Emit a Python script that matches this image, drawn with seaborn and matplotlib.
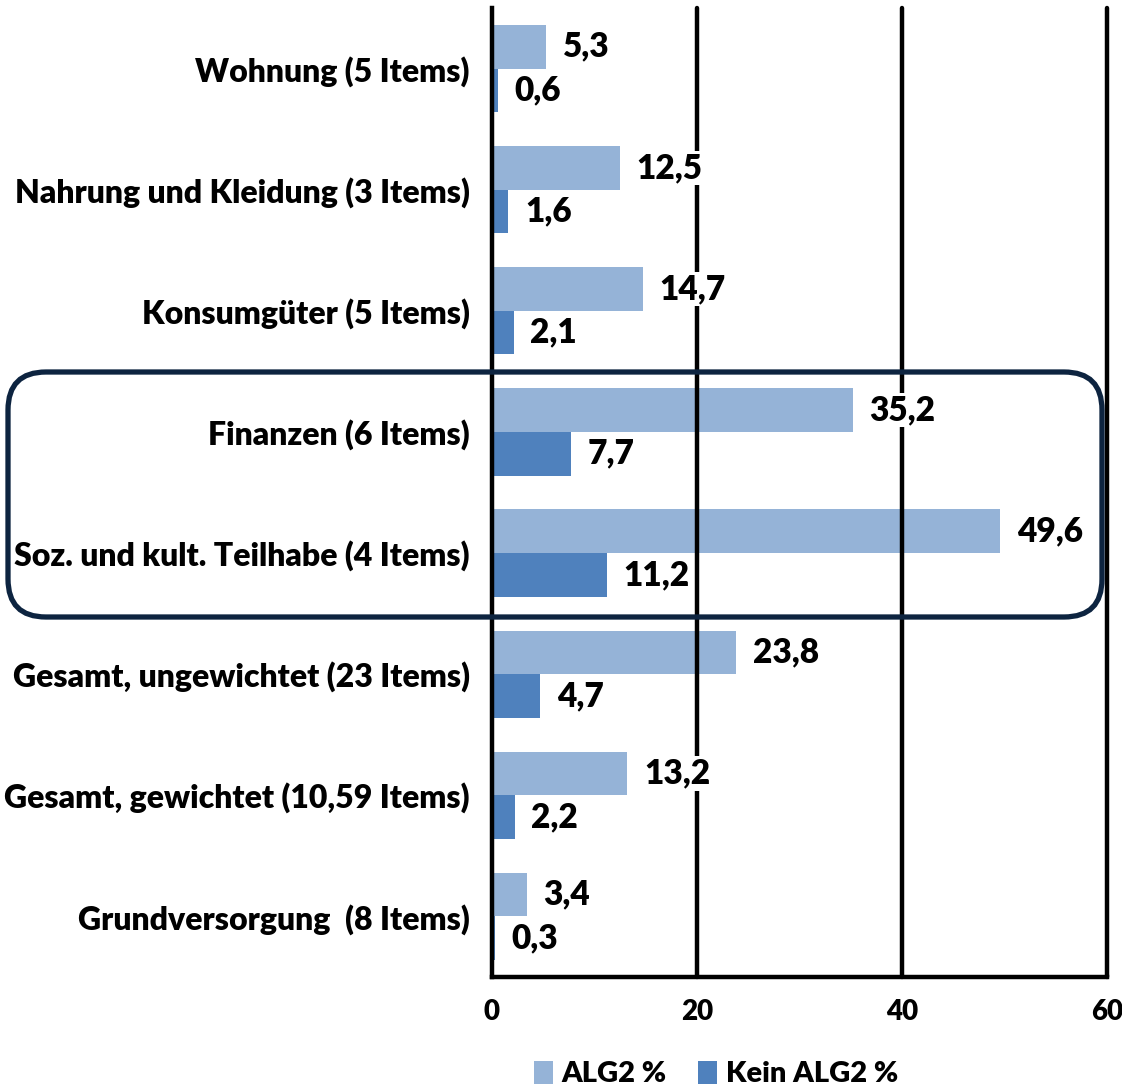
import matplotlib
matplotlib.use("Agg")
import matplotlib.pyplot as plt
import seaborn as sns
import pandas as pd
from matplotlib.patches import FancyBboxPatch, Patch
from matplotlib.transforms import IdentityTransform

categories = [
    "Wohnung (5 Items)",
    "Nahrung und Kleidung (3 Items)",
    "Konsumgüter (5 Items)",
    "Finanzen (6 Items)",
    "Soz. und kult. Teilhabe (4 Items)",
    "Gesamt, ungewichtet (23 Items)",
    "Gesamt, gewichtet (10,59 Items)",
    "Grundversorgung  (8 Items)",
]
alg2 = [5.3, 12.5, 14.7, 35.2, 49.6, 23.8, 13.2, 3.4]
kein_alg2 = [0.6, 1.6, 2.1, 7.7, 11.2, 4.7, 2.2, 0.3]
series_names = ["ALG2 %", "Kein ALG2 %"]
colors = ["#95B3D7", "#4F81BD"]
x_ticks = [0, 20, 40, 60]

df = pd.DataFrame({
    "Kategorie": categories * 2,
    "Wert": alg2 + kein_alg2,
    "Gruppe": [series_names[0]] * len(categories) + [series_names[1]] * len(categories),
})

sns.set_style("white")
plt.rcParams["font.family"] = ["Lato", "DejaVu Sans"]
WEIGHT = "heavy"
plt.rcParams["font.weight"] = WEIGHT
plt.rcParams["text.color"] = "black"
plt.rcParams["xtick.color"] = "black"
plt.rcParams["ytick.color"] = "black"
plt.rcParams["xtick.labelcolor"] = "black"
plt.rcParams["ytick.labelcolor"] = "black"

W, H = 1122, 1089
fig = plt.figure(figsize=(W / 100, H / 100), dpi=100)
ax = fig.add_axes([492 / W, 1 - 977 / H, (1107 - 492) / W, (977 - 8) / H])

sns.barplot(data=df, y="Kategorie", x="Wert", hue="Gruppe", hue_order=series_names,
            palette=colors, orient="h", width=0.72, saturation=1, linewidth=0,
            legend=False, ax=ax)

ax.set_xlim(0, 60)
ax.set_xlabel("")
ax.set_ylabel("")
ax.set_xticks(x_ticks)
ax.set_xticklabels([str(t) for t in x_ticks], fontsize=20, fontweight=WEIGHT, color="black")
ax.tick_params(axis="x", direction="out", length=6, width=3, pad=10, color="black")
ax.tick_params(axis="y", which="major", length=0, pad=16, labelsize=23, labelcolor="black")
for lbl in ax.get_yticklabels():
    lbl.set_fontweight(WEIGHT)
ax.set_yticks([i - 0.5 for i in range(len(categories) + 1)], minor=True)
ax.tick_params(axis="y", which="minor", direction="out", length=6, width=3, color="black")

for t in x_ticks[1:]:
    ax.axvline(t, color="black", lw=3.2, zorder=2.5, clip_on=False)

sns.despine(ax=ax, top=True, right=True)
for s in ["left", "bottom"]:
    ax.spines[s].set_linewidth(3.2)
    ax.spines[s].set_color("black")
    ax.spines[s].set_zorder(4)

for cont, vals in zip(ax.containers, [alg2, kein_alg2]):
    texts = ax.bar_label(cont, labels=[f"{v:.1f}".replace(".", ",") for v in vals],
                         padding=12, fontsize=24, fontweight=WEIGHT, color="black", zorder=5)
    for t in texts:
        t.set_bbox(dict(facecolor="white", edgecolor="none", pad=1))

box = FancyBboxPatch((8, H - 617), 1094, 245,
                     boxstyle="round,pad=0,rounding_size=38",
                     transform=IdentityTransform(), fill=False,
                     edgecolor="#0D2440", linewidth=3.8, zorder=10)
fig.add_artist(box)

handles = [Patch(facecolor=c, edgecolor="none") for c in colors]
fig.legend(handles, series_names, loc="center", bbox_to_anchor=(716 / W, 1 - 1074 / H),
           ncol=2, frameon=False, prop={"size": 21, "weight": WEIGHT},
           labelcolor="black", handlelength=0.65, handleheight=0.85,
           handletextpad=0.3, columnspacing=1.1)

fig.savefig("out.png", dpi=100)
